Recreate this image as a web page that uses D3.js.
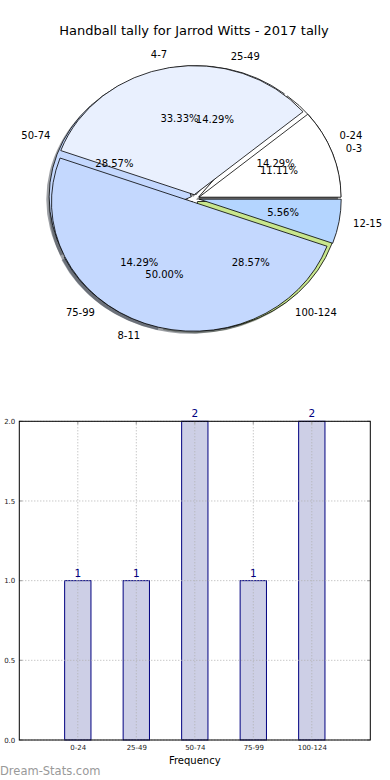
<!DOCTYPE html>
<html>
<head>
<meta charset="utf-8">
<script src="https://cdn.jsdelivr.net/npm/d3@7"></script>
<style>
  html, body { margin: 0; padding: 0; background: #fff; }
  svg { display: block; font-family: "DejaVu Sans", sans-serif; }
</style>
</head>
<body>
<svg id="chart" width="390" height="780"></svg>
<script>
// ---- data ----
const title = "Handball tally for Jarrod Witts - 2017 tally";
const outerCats = ["0-24", "25-49", "50-74", "75-99", "100-124"];
const outerVals = [1, 1, 2, 1, 2];
const innerCats = ["0-3", "4-7", "8-11", "12-15"];
const innerVals = [2, 6, 9, 1];
const barCats = ["0-24", "25-49", "50-74", "75-99", "100-124"];
const barVals = [1, 1, 2, 1, 2];
const yTicks = [0, 0.5, 1.0, 1.5, 2.0];
const xLabel = "Frequency";
const watermark = "Dream-Stats.com";

// ---- styles ----
const pieColors = ["#ffffff", "#e9f0fe", "#c4d8fe", "#b4d5ff", "#c8e68d"];

const svg = d3.select("#chart");

svg.append("text").attr("x", 194).attr("y", 30).attr("text-anchor", "middle")
  .attr("dominant-baseline", "central").attr("font-size", 13).attr("fill", "#000").text(title);

// ---- pie ----
const cx = 195, cy = 198.5, rx = 142, ry = 129;
const explode = 0.03;
const sx = d3.scaleLinear().domain([-1, 1]).range([cx - rx, cx + rx]);
const sy = d3.scaleLinear().domain([-1, 1]).range([cy + ry, cy - ry]);
const arc = d3.arc().innerRadius(0).outerRadius(1)
  .startAngle(d => Math.PI / 2 - d.startAngle)
  .endAngle(d => Math.PI / 2 - d.endAngle);
const pieGen = d3.pie().sort(null).value(d => d);

function build(cats, vals) {
  const tot = d3.sum(vals);
  return pieGen(vals).map((p, i) => {
    const tm = (p.startAngle + p.endAngle) / 2;
    return { ...p, cat: cats[i], color: pieColors[i], pct: d3.format(".2f")(vals[i] / tot * 100) + "%",
      tm, ex: explode * Math.cos(tm), ey: explode * Math.sin(tm) };
  });
}
const pies = [build(outerCats, outerVals), build(innerCats, innerVals)];

const gShadow = svg.append("g");
const gWedge = svg.append("g");
const gText = svg.append("g");

function wedgeTransform(d, ox, oy) {
  return `translate(${sx(d.ex + ox)},${sy(d.ey + oy)}) scale(${rx},${-ry})`;
}

pies.forEach(data => {
  gShadow.selectAll(null).data(data).enter().append("path")
    .attr("d", d => arc({ startAngle: -d.startAngle, endAngle: -d.endAngle }))
    .attr("transform", d => wedgeTransform(d, -0.02, -0.02))
    .attr("fill", d => { const c = d3.rgb(d.color); return d3.rgb(c.r * 0.3, c.g * 0.3, c.b * 0.3).toString(); })
    .attr("fill-opacity", 0.5);
});

pies.forEach(data => {
  const g = gWedge.append("g");
  g.selectAll(null).data(data).enter().append("path")
    .attr("d", d => arc({ startAngle: -d.startAngle, endAngle: -d.endAngle }))
    .attr("transform", d => wedgeTransform(d, 0, 0))
    .attr("fill", d => d.color)
    .attr("stroke", "#000").attr("stroke-width", 0.8)
    .attr("vector-effect", "non-scaling-stroke")
    .attr("stroke-linejoin", "miter");
});

pies.forEach(data => {
  data.forEach(d => {
    const lx = d.ex + 1.1 * Math.cos(d.tm), ly = d.ey + 1.1 * Math.sin(d.tm);
    gText.append("text").attr("x", sx(lx)).attr("y", sy(ly))
      .attr("text-anchor", lx > 0 ? "start" : "end").attr("dominant-baseline", "central")
      .attr("font-size", 10).attr("fill", "#000").text(d.cat);
    const px = d.ex + 0.6 * Math.cos(d.tm), py = d.ey + 0.6 * Math.sin(d.tm);
    gText.append("text").attr("x", sx(px)).attr("y", sy(py))
      .attr("text-anchor", "middle").attr("dominant-baseline", "central")
      .attr("font-size", 10).attr("fill", "#000").text(d.pct);
  });
});

// ---- bar chart ----
const L = 19.3, R = 370.3, T = 421.3, B = 740;
const x = d3.scaleLinear().domain([-1, 5]).range([L, R]);
const y = d3.scaleLinear().domain([0, 2]).range([B, T]);
const bw = 0.45;
const gb = svg.append("g");

gb.selectAll(null).data(barVals).enter().append("rect")
  .attr("x", (d, i) => x(i - bw / 2)).attr("width", (d, i) => x(i + bw / 2) - x(i - bw / 2))
  .attr("y", d => y(d)).attr("height", d => y(0) - y(d))
  .attr("fill", "#cdcfe6").attr("stroke", "#000080").attr("stroke-width", 1);

// grid
gb.selectAll(null).data(yTicks).enter().append("line")
  .attr("x1", L).attr("x2", R).attr("y1", d => y(d)).attr("y2", d => y(d))
  .attr("stroke", "#b0b0b0").attr("stroke-width", 1).attr("stroke-dasharray", "1,2");
gb.selectAll(null).data(barCats).enter().append("line")
  .attr("x1", (d, i) => x(i)).attr("x2", (d, i) => x(i)).attr("y1", T).attr("y2", B)
  .attr("stroke", "#b0b0b0").attr("stroke-width", 1).attr("stroke-dasharray", "1,2");

// ticks
gb.selectAll(null).data(barCats).enter().append("line")
  .attr("x1", (d, i) => x(i)).attr("x2", (d, i) => x(i)).attr("y1", T).attr("y2", T + 3)
  .attr("stroke", "#aaa").attr("stroke-width", 1.2);
gb.selectAll(null).data(yTicks).enter().append("line")
  .attr("x1", R - 3).attr("x2", R).attr("y1", d => y(d)).attr("y2", d => y(d))
  .attr("stroke", "#aaa").attr("stroke-width", 1.2);
gb.selectAll(null).data(yTicks).enter().append("line")
  .attr("x1", L).attr("x2", L + 3).attr("y1", d => y(d)).attr("y2", d => y(d))
  .attr("stroke", "#aaa").attr("stroke-width", 1.2);

// frame
gb.append("rect").attr("x", L).attr("y", T).attr("width", R - L).attr("height", B - T)
  .attr("fill", "none").attr("stroke", "#000").attr("stroke-width", 1);

// value labels
gb.selectAll(null).data(barVals).enter().append("text")
  .attr("x", (d, i) => x(i)).attr("y", d => y(d) - 4)
  .attr("text-anchor", "middle").attr("font-size", 10.5).attr("fill", "#000080").text(d => d);

// axis labels
const yAxis = d3.axisLeft(y).tickValues(yTicks).tickFormat(d3.format(".1f")).tickSize(0).tickPadding(4);
const ya = svg.append("g").attr("transform", `translate(${L},0)`).call(yAxis);
ya.select(".domain").remove();
ya.selectAll("text").attr("font-size", 7).attr("fill", "#222").attr("font-family", "DejaVu Sans");

const xs = d3.scalePoint().domain(barCats).range([x(0), x(4)]);
const xAxis = d3.axisBottom(xs).tickSize(0).tickPadding(5);
const xa = svg.append("g").attr("transform", `translate(0,${B})`).call(xAxis);
xa.select(".domain").remove();
xa.selectAll("text").attr("font-size", 7).attr("fill", "#222").attr("font-family", "DejaVu Sans");

svg.append("text").attr("x", x(2)).attr("y", 764).attr("text-anchor", "middle")
  .attr("font-size", 10).attr("fill", "#000").text(xLabel);

svg.append("text").attr("x", 0).attr("y", 775).attr("font-size", 11.5)
  .attr("fill", "#999").text(watermark);
</script>
</body>
</html>
